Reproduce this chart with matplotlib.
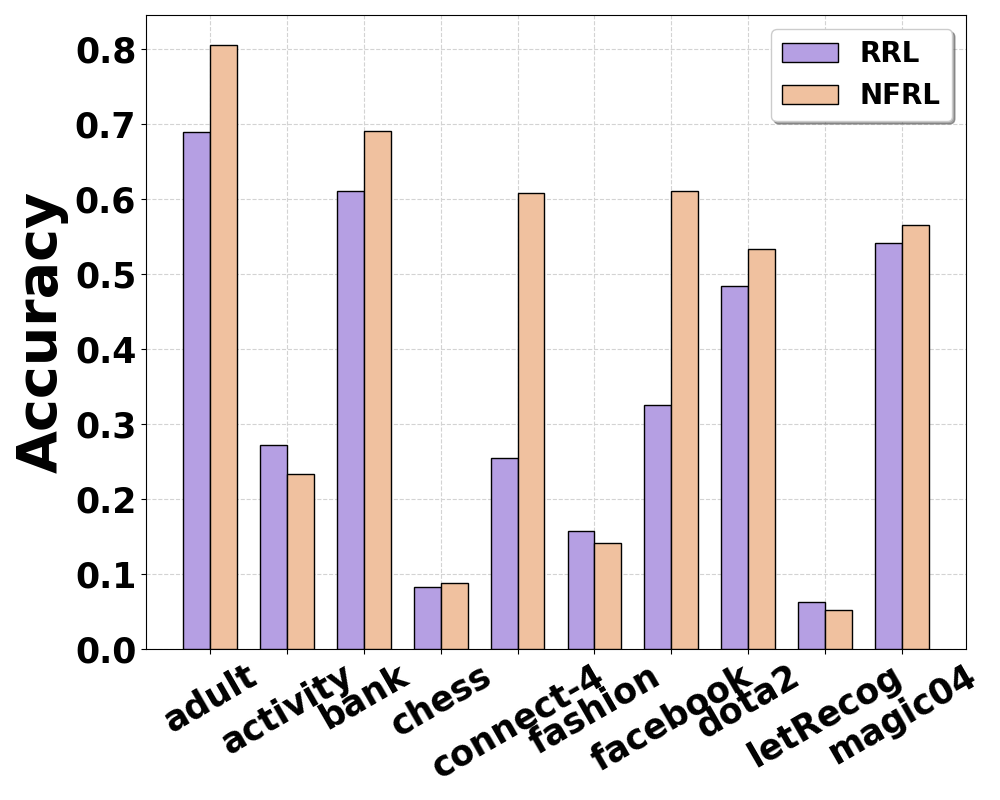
import numpy as np
import matplotlib.pyplot as plt

datasets = ['adult', 'activity', 'bank', 'chess', 'connect-4', 'fashion',
            'facebook', 'dota2', 'letRecog', 'magic04']
rrl = [0.689, 0.272, 0.611, 0.083, 0.255, 0.157, 0.325, 0.484, 0.063, 0.541]
nfrl = [0.805, 0.233, 0.691, 0.088, 0.608, 0.141, 0.611, 0.533, 0.052, 0.565]


def main():
    x = np.arange(len(datasets))
    w = 0.35

    fig = plt.figure(figsize=(10, 8), dpi=100)
    ax = fig.add_axes([0.146, 0.189, 0.820, 0.792])
    ax.bar(x - w / 2, rrl, w, color='#b59fe3', edgecolor='black', label='RRL', zorder=3)
    ax.bar(x + w / 2, nfrl, w, color='#f0c19f', edgecolor='black', label='NFRL', zorder=3)

    ax.grid(True, linestyle='--', color='#d3d3d3', zorder=0)
    ax.set_xticks(x)
    ax.set_xticklabels(datasets, rotation=30, fontsize=25, fontweight='bold')
    ax.set_yticks(np.arange(0, 0.81, 0.1))
    ax.set_yticklabels(['%.1f' % v for v in np.arange(0, 0.81, 0.1)],
                       fontsize=25, fontweight='bold')
    ax.set_ylabel('Accuracy', fontsize=40, fontweight='bold')
    ax.legend(prop={'size': 20, 'weight': 'bold'}, shadow=True, fancybox=True)

    fig.savefig('out.png')


if __name__ == "__main__":
    main()
